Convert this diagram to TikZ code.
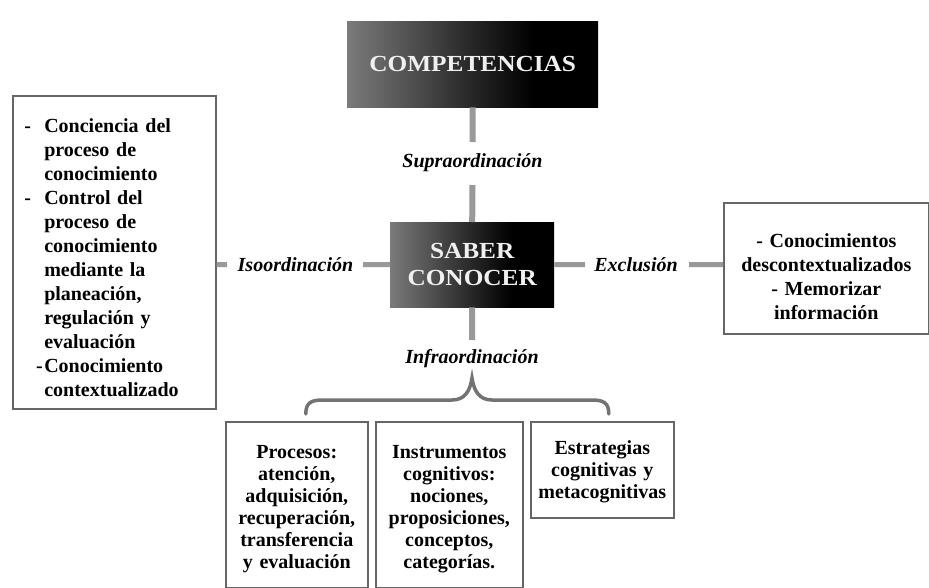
\documentclass[tikz,border=0pt]{standalone}
\usepackage{fontspec}
\usepackage{graphicx}
\setmainfont{Liberation Serif}
\usetikzlibrary{calc}
\newcommand\mybf{\bfseries\fontsize{20}{24}\selectfont}
\newcommand\mybfs{\bfseries\fontsize{20}{22}\selectfont}
\newcommand\myrel{\bfseries\itshape\fontsize{20}{24}\selectfont}
\newcommand\mytitle{\bfseries\fontsize{23}{27}\selectfont}
\newcommand\wide[1]{\scalebox{1.1}[1]{#1}}
\newcommand\dashitem{\leavevmode\llap{-\ \ }}
\pgfdeclarehorizontalshading{darkshade}{100bp}{color(0bp)=(black!52); color(25bp)=(black!52); color(50bp)=(black!85); color(62bp)=(black); color(100bp)=(black)}
\tikzset{
  txtbox/.style={draw=black!60, line width=1.6pt, fill=white, inner sep=0pt, anchor=north west},
  darkbox/.style={shading=darkshade, inner sep=0pt, anchor=north west},
  conn/.style={draw=black!40, line width=6pt},
  hconn/.style={draw=black!40, line width=5pt},
  rel/.style={font=\myrel, inner sep=0pt, anchor=base},
  brace/.style={draw=black!55, line width=3.5pt, line cap=round},
  titletxt/.style={font=\mytitle, text=black!6, align=center, inner sep=0pt},
}
\begin{document}
\begin{tikzpicture}[x=1pt,y=-1pt]
\useasboundingbox[fill=white] (0,0) rectangle (929,588);

% dark boxes
\node[darkbox, minimum width=251pt, minimum height=86pt] (comp) at (347,21) {};
\node[titletxt] (comptx) at (comp.center) {\wide{COMPETENCIAS}};

\node[darkbox, minimum width=164pt, minimum height=85pt] (saber) at (390,222) {};
\node[titletxt] (sabertx) at (saber.center) {\wide{SABER}\\\wide{CONOCER}};

% left box
\node[txtbox, minimum width=203pt, minimum height=313pt, text width=140pt, align=left, font=\mybf] (lbox) at (12,95) {%
\dashitem\rule{0pt}{24pt}Conciencia del\\
proceso de\\
conocimiento\\
\dashitem Control del\\
proceso de\\
conocimiento\\
mediante la\\
planeación,\\
regulación y\\
evaluación\\
\leavevmode\llap{-\hspace{1.5pt}}Conocimiento\\
contextualizado};

% right box
\node[txtbox, minimum width=205pt, minimum height=131pt, text width=200pt, align=center, font=\mybf] (rbox) at (723,202) {%
\rule{0pt}{30pt}- Conocimientos\\descontextualizados\\- Memorizar\\información};

% bottom boxes
\node[txtbox, minimum width=142pt, minimum height=166pt, text width=140pt, align=center, font=\mybfs] (b1) at (225,421) {%
\rule{0pt}{22pt}Procesos:\\atención,\\adquisición,\\recuperación,\\transferencia\\y evaluación};
\node[txtbox, minimum width=147pt, minimum height=166pt, text width=145pt, align=center, font=\mybfs] (b2) at (375,421) {%
\rule{0pt}{22pt}Instrumentos\\cognitivos:\\nociones,\\proposiciones,\\conceptos,\\categorías.};
\node[txtbox, minimum width=143pt, minimum height=96pt, text width=141pt, align=center, font=\mybfs] (b3) at (530,421) {%
\rule{0pt}{18pt}Estrategias\\cognitivas y\\metacognitivas};

% vertical: supraordinacion
\coordinate (s1) at (472.5,142);
\coordinate (s2) at (472.5,185);
\draw[conn] (comp.south) -- (s1);
\node[rel] (supra) at (472.5,168) {Supraordinación};
\draw[conn] (s2) -- (saber.north);

% infraordinacion
\coordinate (i1) at (472,340);
\draw[conn] (saber.south) -- (i1);
\node[rel] (infra) at (472,363) {Infraordinación};

% isoordinacion
\coordinate (iso1) at (227,264.5);
\coordinate (iso2) at (363,264.5);
\draw[hconn] (lbox.east |- saber.west) -- (iso1);
\node[rel] (iso) at (295.5,272) {Isoordinación};
\draw[hconn] (iso2) -- (saber.west);

% exclusion
\coordinate (ex1) at (585,264.5);
\coordinate (ex2) at (689,264.5);
\draw[hconn] (saber.east) -- (ex1);
\node[rel] (excl) at (636,272) {Exclusión};
\draw[hconn] (ex2) -- (rbox.west |- saber.east);

% brace
\coordinate (bl) at ($(b1.north)+(9,-7)$);
\coordinate (br) at ($(b3.north)+(6.5,-7)$);
\coordinate (cusp) at (472,378);
\draw[brace] (bl) .. controls ($(bl)+(0,-11)$) and ($(bl)+(5,-14)$) .. ($(bl)+(17,-14)$)
  -- (452,400) .. controls (464,400) and (470,392) .. (cusp)
  .. controls (474,392) and (480,400) .. (492,400)
  -- ($(br)+(-17,-14)$) .. controls ($(br)+(-5,-14)$) and ($(br)+(0,-11)$) .. (br);
\end{tikzpicture}
\end{document}
